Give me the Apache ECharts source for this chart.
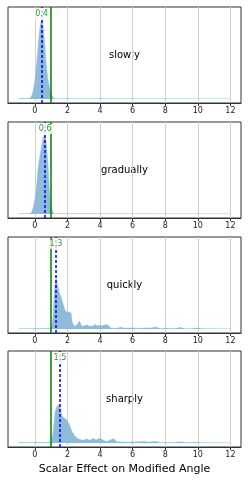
<!DOCTYPE html>
<html>
<head>
<meta charset="utf-8">
<script src="https://cdn.jsdelivr.net/npm/echarts@6/dist/echarts.min.js"></script>
<style>html,body{margin:0;padding:0;background:#fff;}#c{width:249px;height:498px;}</style>
</head>
<body>
<div id="c"></div>
<script>
// ---- data ----
var panelNames = ['slowly', 'gradually', 'quickly', 'sharply'];
var xTicks = [0, 2, 4, 6, 8, 10, 12];
var referenceValue = 1.0;
var medians = [0.41, 0.63, 1.29, 1.54];

var slowlyX = [-1, -0.3, -0.2, -0.1, 0, 0.1, 0.2, 0.3, 0.4, 0.5, 0.6, 0.7, 0.8, 0.9, 1.0, 1.1, 1.2, 12];
var slowlyY = [0.004, 0.008, 0.035, 0.09, 0.2, 0.36, 0.57, 0.76, 0.85, 0.79, 0.6, 0.37, 0.22, 0.13, 0.06, 0.018, 0.004, 0.004];

var graduallyX = [-1, -0.3, -0.2, -0.1, 0, 0.1, 0.2, 0.3, 0.4, 0.5, 0.6, 0.7, 0.8, 0.9, 1.0, 1.1, 1.2, 12];
var graduallyY = [0.004, 0.006, 0.02, 0.07, 0.16, 0.3, 0.5, 0.62, 0.72, 0.82, 0.86, 0.76, 0.55, 0.25, 0.08, 0.02, 0.004, 0.004];

var quicklyX = [-1, 0.9, 1.0, 1.05, 1.1, 1.15, 1.2, 1.25, 1.3, 1.4, 1.5, 1.6, 1.75, 1.86, 2.0, 2.1, 2.22, 2.3, 2.45, 2.6, 2.73, 2.9, 3.05, 3.18, 3.35, 3.5, 3.68, 3.85, 4.0, 4.15, 4.3, 4.5, 4.65, 4.9, 5.1, 5.3, 5.5, 5.8, 6.0, 6.3, 6.7, 7.1, 7.45, 7.7, 8.2, 8.6, 8.9, 9.2, 9.6, 10.0, 10.3, 12];
var quicklyY = [0.004, 0.006, 0.01, 0.03, 0.1, 0.25, 0.42, 0.52, 0.55, 0.47, 0.4, 0.35, 0.26, 0.2, 0.18, 0.185, 0.17, 0.07, 0.03, 0.05, 0.085, 0.03, 0.035, 0.045, 0.03, 0.03, 0.05, 0.035, 0.04, 0.035, 0.045, 0.04, 0.012, 0.008, 0.01, 0.018, 0.008, 0.01, 0.012, 0.007, 0.01, 0.012, 0.02, 0.006, 0.008, 0.005, 0.015, 0.004, 0.004, 0.01, 0.004, 0.004];

var sharplyX = [-1, 0.95, 1.04, 1.14, 1.24, 1.34, 1.46, 1.55, 1.65, 1.75, 1.96, 2.12, 2.27, 2.47, 2.67, 2.98, 3.18, 3.35, 3.58, 3.79, 3.99, 4.2, 4.4, 4.6, 4.85, 5.0, 5.3, 5.7, 6.1, 6.67, 7.0, 7.4, 7.7, 8.3, 8.9, 9.3, 10.0, 10.3, 12];
var sharplyY = [0.004, 0.008, 0.03, 0.14, 0.33, 0.39, 0.415, 0.38, 0.3, 0.28, 0.25, 0.2, 0.126, 0.072, 0.043, 0.03, 0.043, 0.03, 0.05, 0.035, 0.052, 0.03, 0.018, 0.03, 0.045, 0.015, 0.01, 0.008, 0.01, 0.015, 0.01, 0.015, 0.006, 0.005, 0.012, 0.004, 0.008, 0.004, 0.004];

var xsList = [slowlyX, graduallyX, quicklyX, sharplyX];
var ysList = [slowlyY, graduallyY, quicklyY, sharplyY];

// ---- layout ----
var FONT = 'DejaVu Sans';
var gridTops = [7, 122, 237, 351];
var gridH = 96;
var Y_MIN = -0.0435, Y_MAX = 1;
var LABEL_Y = 1 - 7 / gridH * (Y_MAX - Y_MIN);

var grids = [], xAxes = [], yAxes = [], series = [], graphics = [];
for (var i = 0; i < 4; i++) {
  grids.push({left: 8, right: 8, top: gridTops[i], height: gridH, show: true, borderColor: '#333', borderWidth: 1, backgroundColor: 'transparent'});
  xAxes.push({
    type: 'value', gridIndex: i, min: -1.65, max: 12.65,
    axisLine: {show: true, onZero: false, lineStyle: {color: '#333', width: 1}},
    axisTick: {show: true, length: 3, customValues: xTicks, lineStyle: {color: '#333'}},
    axisLabel: {show: true, customValues: xTicks, fontSize: 8, color: '#222', margin: 4, fontFamily: FONT},
    splitLine: {show: true, lineStyle: {color: '#d0d0d0', width: 1}}
  });
  yAxes.push({
    type: 'value', gridIndex: i, min: Y_MIN, max: Y_MAX,
    axisLine: {show: false}, axisTick: {show: false}, axisLabel: {show: false}, splitLine: {show: false}
  });
  var d = xsList[i].map(function (x, k) { return [x, ysList[i][k]]; });
  series.push({
    type: 'line', xAxisIndex: i, yAxisIndex: i, data: d, showSymbol: false, smooth: 0.2,
    lineStyle: {color: 'rgba(143,187,217,0.45)', width: 1},
    areaStyle: {color: '#8fbbda', opacity: 1},
    silent: true, z: 2,
    markLine: {
      silent: true, symbol: ['none', 'none'], label: {show: false},
      data: [
        {xAxis: referenceValue, lineStyle: {color: '#008000', width: 1.5, type: 'solid'}},
        {xAxis: medians[i], lineStyle: {color: '#0000ff', width: 1.5, type: [3, 2]}}
      ]
    }
  });
  series.push({
    type: 'scatter', xAxisIndex: i, yAxisIndex: i, data: [[medians[i], LABEL_Y]],
    symbolSize: 0, silent: true, z: 10,
    label: {
      show: true, position: 'inside', fontSize: 8, fontFamily: FONT, color: '#008000',
      backgroundColor: '#ffffff', padding: [1, 1],
      formatter: function (p) { return p.value[0].toFixed(1); }
    }
  });
  graphics.push({
    type: 'text', x: 124.5, y: gridTops[i] + gridH / 2,
    style: {text: panelNames[i], fontSize: 10, fontFamily: FONT, fill: '#000', textAlign: 'center', textVerticalAlign: 'middle'}
  });
}
graphics.push({
  type: 'text', x: 124.5, y: 469,
  style: {text: 'Scalar Effect on Modified Angle', fontSize: 11, fontFamily: FONT, fill: '#000', textAlign: 'center', textVerticalAlign: 'middle'}
});

var chart = echarts.init(document.getElementById('c'), null, {renderer: 'canvas'});
chart.setOption({
  animation: false,
  backgroundColor: '#fff',
  grid: grids, xAxis: xAxes, yAxis: yAxes, series: series, graphic: graphics
});
</script>
</body>
</html>
